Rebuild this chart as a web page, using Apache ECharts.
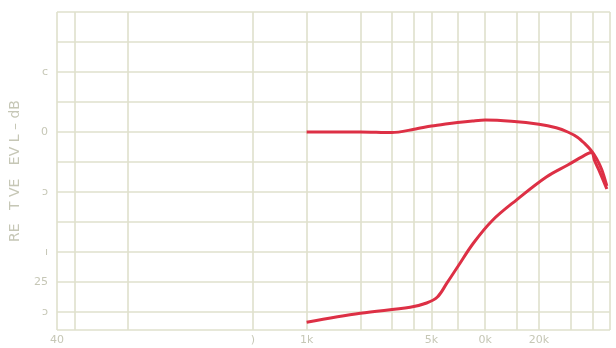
<!DOCTYPE html>
<html><head><meta charset="utf-8">
<script src="https://cdn.jsdelivr.net/npm/echarts@6/dist/echarts.min.js"></script>
<style>html,body{margin:0;padding:0;background:#fff}#c{width:616px;height:348px}</style>
</head><body><div id="c"></div>
<script>
// Data
const freqUpper = [1000, 2000, 3000, 4000, 5000, 6000, 7000, 8500, 10000, 14000, 20000, 25000, 29000, 33000, 36000, 39000, 42000, 45000, 48000];
const levelUpper = [0, 0, -0.1, 0.45, 1.0, 1.35, 1.6, 1.85, 2.0, 1.8, 1.3, 0.7, 0.0, -0.9, -1.9, -3.0, -4.4, -6.3, -9.0];
const freqLower = [1000, 2000, 3800, 4700, 5400, 6100, 7000, 8600, 11000, 15000, 22000, 29000, 37500, 39500, 41000, 44000, 48000];
const levelLower = [-31.7, -30.2, -29.2, -28.5, -27.5, -25.2, -22.5, -18.5, -14.7, -11.3, -7.5, -5.5, -3.6, -3.4, -4.8, -6.8, -9.5];
// Tick labels (as they appear on the faded scan)
const xTickValues = [40, 500, 1000, 5000, 10000, 20000];
const xTickLabels = ['40', ')', '1k', '5k', '0k', '20k'];
const yTickValues = [10, 0, -10, -20, -25, -30];
const yTickLabels = ['c', '0', 'ɔ', 'ı', '25', 'ɔ'];
const yAxisTitle = 'RE   T VE   EV L – dB';
// Chart-paper grid lines
const gridFreqs = [40, 50, 100, 500, 1000, 2000, 3000, 4000, 5000, 7000, 10000, 15000, 20000, 30000, 40000, 50000];
const gridLevels = [20, 15, 10, 5, 0, -5, -10, -15, -20, -25, -30, -33];

const xMap = {}; xTickValues.forEach((v, i) => xMap[v] = xTickLabels[i]);
const yMap = {}; yTickValues.forEach((v, i) => yMap[v] = yTickLabels[i]);
const red = '#dd3045';
const gridColor = '#dfe0cc';
const labelColor = '#c6c7b6';

const chart = echarts.init(document.getElementById('c'), null, {renderer: 'canvas'});
chart.setOption({
  animation: false,
  backgroundColor: '#ffffff',
  grid: {left: 57, right: 6, top: 12, bottom: 18, containLabel: false, outerBoundsMode: 'none'},
  xAxis: {
    type: 'log', logBase: 10, min: 40, max: 50000,
    axisLine: {show: false}, axisTick: {show: false}, splitLine: {show: false}, minorSplitLine: {show: false},
    axisLabel: {
      customValues: xTickValues, margin: 5,
      formatter: v => xMap[Math.round(v)] !== undefined ? xMap[Math.round(v)] : '',
      color: labelColor, fontFamily: 'DejaVu Sans', fontSize: 11
    }
  },
  yAxis: {
    type: 'value', min: -33, max: 20,
    name: yAxisTitle, nameLocation: 'middle', nameGap: 35, nameRotate: 90,
    nameTextStyle: {color: labelColor, fontFamily: 'DejaVu Sans', fontSize: 14},
    axisLine: {show: false}, axisTick: {show: false}, splitLine: {show: false},
    axisLabel: {
      customValues: yTickValues, margin: 9,
      formatter: v => yMap[Math.round(v)] !== undefined ? yMap[Math.round(v)] : '',
      color: labelColor, fontFamily: 'DejaVu Sans', fontSize: 11
    }
  },
  series: [
    {
      type: 'line', data: [], silent: true, z: 1,
      markLine: {
        silent: true, symbol: 'none', label: {show: false}, z: 1,
        lineStyle: {color: gridColor, width: 1.6, type: 'solid'},
        data: gridFreqs.map(f => ({xAxis: f})).concat(gridLevels.map(l => ({yAxis: l})))
      }
    },
    {
      type: 'line', name: 'upper', smooth: 0.3, symbol: 'none', z: 5,
      lineStyle: {color: red, width: 3}, clip: true,
      data: freqUpper.map((f, i) => [f, levelUpper[i]])
    },
    {
      type: 'line', name: 'lower', smooth: 0.35, symbol: 'none', z: 5,
      lineStyle: {color: red, width: 3}, clip: true,
      data: freqLower.map((f, i) => [f, levelLower[i]])
    }
  ]
});
</script>
</body></html>
